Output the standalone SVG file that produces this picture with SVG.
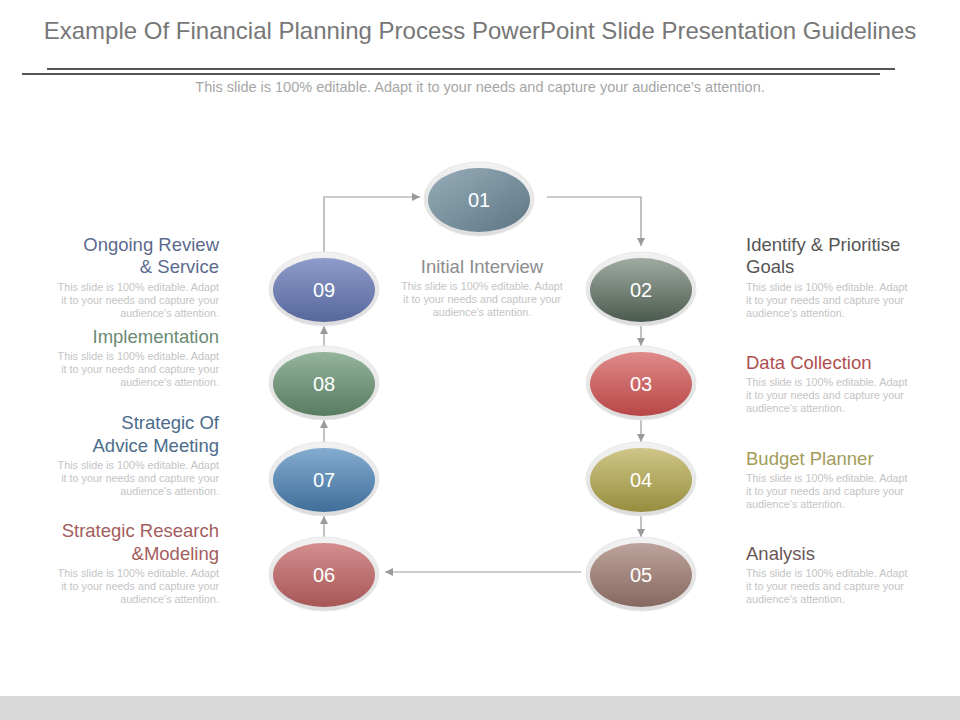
<svg xmlns="http://www.w3.org/2000/svg" width="960" height="720" viewBox="0 0 960 720">
<defs>
<style>
.title{font-family:"Liberation Sans",Arial,sans-serif;font-size:24px;fill:#777777}
.sub{font-family:"Liberation Sans",Arial,sans-serif;font-size:14.5px;fill:#a6a6a6}
.head{font-family:"Liberation Sans",Arial,sans-serif;font-size:18.5px}
.body{font-family:"Liberation Sans",Arial,sans-serif;font-size:10.8px;fill:#c4c4c4}
.num{font-family:"Liberation Sans",Arial,sans-serif;font-size:20px;fill:#ffffff;text-anchor:middle}
.ring{fill:url(#gRing);stroke:#e8e8e8;stroke-width:1}
.conn{fill:none;stroke:#9a9a9a;stroke-width:1.2}
.l{text-anchor:end}
.r{text-anchor:start}
.c{text-anchor:middle}
</style>
<marker id="arr" viewBox="0 0 10 10" refX="10" refY="5" markerWidth="8" markerHeight="8" markerUnits="userSpaceOnUse" orient="auto">
<path d="M0,0 L10,5 L0,10 z" fill="#9a9a9a"/>
</marker>
<linearGradient id="gRing" x1="0" y1="0" x2="0" y2="1"><stop offset="0" stop-color="#f2f2f2"/><stop offset="1" stop-color="#dcdcdc"/></linearGradient>
<linearGradient id="g1" x1="0" y1="0" x2="1" y2="1"><stop offset="0" stop-color="#97adb9"/><stop offset="1" stop-color="#5d7584"/></linearGradient>
<linearGradient id="g2" x1="0" y1="0" x2="0" y2="1"><stop offset="0" stop-color="#a0aba2"/><stop offset="1" stop-color="#4b5a4f"/></linearGradient>
<linearGradient id="g3" x1="0" y1="0" x2="0" y2="1"><stop offset="0" stop-color="#df8a8a"/><stop offset="1" stop-color="#b84646"/></linearGradient>
<linearGradient id="g4" x1="0" y1="0" x2="0" y2="1"><stop offset="0" stop-color="#cfc688"/><stop offset="1" stop-color="#978d3e"/></linearGradient>
<linearGradient id="g5" x1="0" y1="0" x2="0" y2="1"><stop offset="0" stop-color="#bda39b"/><stop offset="1" stop-color="#866860"/></linearGradient>
<linearGradient id="g6" x1="0" y1="0" x2="0" y2="1"><stop offset="0" stop-color="#d48e8e"/><stop offset="1" stop-color="#a75656"/></linearGradient>
<linearGradient id="g7" x1="0" y1="0" x2="0" y2="1"><stop offset="0" stop-color="#84acd0"/><stop offset="1" stop-color="#3f6e9a"/></linearGradient>
<linearGradient id="g8" x1="0" y1="0" x2="0" y2="1"><stop offset="0" stop-color="#94b49c"/><stop offset="1" stop-color="#587c60"/></linearGradient>
<linearGradient id="g9" x1="0" y1="0" x2="0" y2="1"><stop offset="0" stop-color="#8e9cca"/><stop offset="1" stop-color="#56679c"/></linearGradient>
</defs>
<rect x="0" y="0" width="960" height="720" fill="#ffffff"/>
<rect x="0" y="696" width="960" height="24" fill="#d9d9d9"/>

<g id="header">
<text class="title" x="480" y="39" text-anchor="middle">Example Of Financial Planning Process PowerPoint Slide Presentation Guidelines</text>
<line x1="47" y1="69" x2="895" y2="69" stroke="#555555" stroke-width="2"/>
<line x1="22" y1="74" x2="880" y2="74" stroke="#555555" stroke-width="2"/>
<text class="sub" x="480" y="92" text-anchor="middle">This slide is 100% editable. Adapt it to your needs and capture your audience's attention.</text>
</g>

<g id="connectors">
<path class="conn" d="M324,252 V197 H420" marker-end="url(#arr)"/>
<path class="conn" d="M547,197 H641 V246" marker-end="url(#arr)"/>
<path class="conn" d="M641,326 V346" marker-end="url(#arr)"/>
<path class="conn" d="M641,420 V442" marker-end="url(#arr)"/>
<path class="conn" d="M641,516 V537" marker-end="url(#arr)"/>
<path class="conn" d="M581,572 H385" marker-end="url(#arr)"/>
<path class="conn" d="M324,538 V516" marker-end="url(#arr)"/>
<path class="conn" d="M324,442 V420" marker-end="url(#arr)"/>
<path class="conn" d="M324,347 V326" marker-end="url(#arr)"/>
</g>

<g id="node-01">
<ellipse class="ring" cx="479" cy="199" rx="55" ry="37"/>
<ellipse cx="479" cy="200" rx="51" ry="32" fill="url(#g1)"/>
<text class="num" x="479" y="207">01</text>
<text class="head c" x="482" y="273" fill="#8c8c8c">Initial Interview</text>
<text class="body c" x="482" y="290">This slide is 100% editable. Adapt</text>
<text class="body c" x="482" y="303">it to your needs and capture your</text>
<text class="body c" x="482" y="316">audience's attention.</text>
</g>

<g id="node-02">
<ellipse class="ring" cx="641" cy="289" rx="55" ry="37"/>
<ellipse cx="641" cy="290" rx="51" ry="32" fill="url(#g2)"/>
<text class="num" x="641" y="297">02</text>
<text class="head r" x="746" y="251" fill="#555555">Identify &amp; Prioritise</text>
<text class="head r" x="746" y="273" fill="#555555">Goals</text>
<text class="body r" x="746" y="291">This slide is 100% editable. Adapt</text>
<text class="body r" x="746" y="304">it to your needs and capture your</text>
<text class="body r" x="746" y="317">audience's attention.</text>
</g>

<g id="node-03">
<ellipse class="ring" cx="641" cy="383" rx="55" ry="37"/>
<ellipse cx="641" cy="384" rx="51" ry="32" fill="url(#g3)"/>
<text class="num" x="641" y="391">03</text>
<text class="head r" x="746" y="369" fill="#b04f4f">Data Collection</text>
<text class="body r" x="746" y="386">This slide is 100% editable. Adapt</text>
<text class="body r" x="746" y="399">it to your needs and capture your</text>
<text class="body r" x="746" y="412">audience's attention.</text>
</g>

<g id="node-04">
<ellipse class="ring" cx="641" cy="479" rx="55" ry="37"/>
<ellipse cx="641" cy="480" rx="51" ry="32" fill="url(#g4)"/>
<text class="num" x="641" y="487">04</text>
<text class="head r" x="746" y="465" fill="#a39c5a">Budget Planner</text>
<text class="body r" x="746" y="482">This slide is 100% editable. Adapt</text>
<text class="body r" x="746" y="495">it to your needs and capture your</text>
<text class="body r" x="746" y="508">audience's attention.</text>
</g>

<g id="node-05">
<ellipse class="ring" cx="641" cy="574" rx="55" ry="37"/>
<ellipse cx="641" cy="575" rx="51" ry="32" fill="url(#g5)"/>
<text class="num" x="641" y="582">05</text>
<text class="head r" x="746" y="560" fill="#6b5757">Analysis</text>
<text class="body r" x="746" y="577">This slide is 100% editable. Adapt</text>
<text class="body r" x="746" y="590">it to your needs and capture your</text>
<text class="body r" x="746" y="603">audience's attention.</text>
</g>

<g id="node-06">
<ellipse class="ring" cx="324" cy="574" rx="55" ry="37"/>
<ellipse cx="324" cy="575" rx="51" ry="32" fill="url(#g6)"/>
<text class="num" x="324" y="582">06</text>
<text class="head l" x="219" y="537" fill="#a45d5d">Strategic Research</text>
<text class="head l" x="219" y="560" fill="#a45d5d">&amp;Modeling</text>
<text class="body l" x="219" y="577">This slide is 100% editable. Adapt</text>
<text class="body l" x="219" y="590">it to your needs and capture your</text>
<text class="body l" x="219" y="603">audience's attention.</text>
</g>

<g id="node-07">
<ellipse class="ring" cx="324" cy="479" rx="55" ry="37"/>
<ellipse cx="324" cy="480" rx="51" ry="32" fill="url(#g7)"/>
<text class="num" x="324" y="487">07</text>
<text class="head l" x="219" y="429" fill="#4b6c8c">Strategic Of</text>
<text class="head l" x="219" y="452" fill="#4b6c8c">Advice Meeting</text>
<text class="body l" x="219" y="469">This slide is 100% editable. Adapt</text>
<text class="body l" x="219" y="482">it to your needs and capture your</text>
<text class="body l" x="219" y="495">audience's attention.</text>
</g>

<g id="node-08">
<ellipse class="ring" cx="324" cy="383" rx="55" ry="37"/>
<ellipse cx="324" cy="384" rx="51" ry="32" fill="url(#g8)"/>
<text class="num" x="324" y="391">08</text>
<text class="head l" x="219" y="343" fill="#6a8a72">Implementation</text>
<text class="body l" x="219" y="360">This slide is 100% editable. Adapt</text>
<text class="body l" x="219" y="373">it to your needs and capture your</text>
<text class="body l" x="219" y="386">audience's attention.</text>
</g>

<g id="node-09">
<ellipse class="ring" cx="324" cy="289" rx="55" ry="37"/>
<ellipse cx="324" cy="290" rx="51" ry="32" fill="url(#g9)"/>
<text class="num" x="324" y="297">09</text>
<text class="head l" x="219" y="251" fill="#5b6a8e">Ongoing Review</text>
<text class="head l" x="219" y="273" fill="#5b6a8e">&amp; Service</text>
<text class="body l" x="219" y="291">This slide is 100% editable. Adapt</text>
<text class="body l" x="219" y="304">it to your needs and capture your</text>
<text class="body l" x="219" y="317">audience's attention.</text>
</g>
</svg>
